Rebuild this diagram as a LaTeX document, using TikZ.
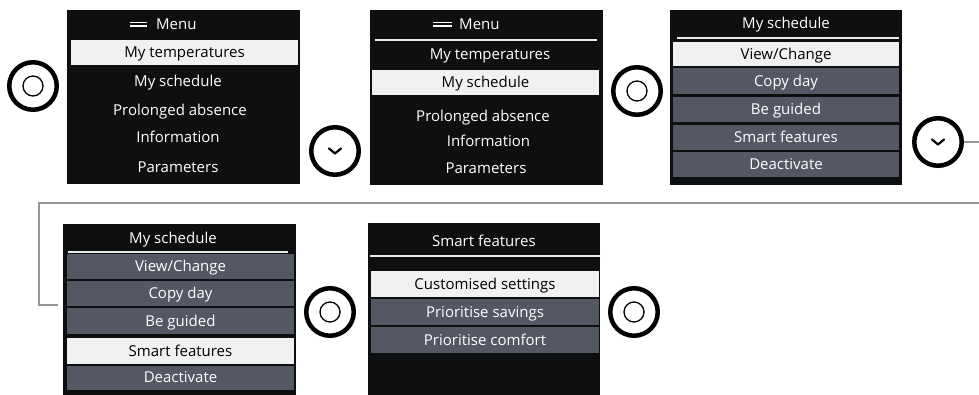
\documentclass[tikz,border=0pt]{standalone}
\usepackage{fontspec}
\setmainfont{Open Sans}
\usetikzlibrary{calc}
\definecolor{scrbg}{RGB}{14,15,17}
\definecolor{rowgray}{RGB}{84,88,101}
\definecolor{hlwhite}{RGB}{240,241,243}
\definecolor{conngray}{RGB}{150,150,150}
\tikzset{
  txtfont/.style={font=\fontsize{15}{18}\selectfont,text height=10.7pt,text depth=0pt},
  screen/.style={fill=scrbg,draw=none,inner sep=0,outer sep=0,anchor=north west},
  rowbox/.style={fill=rowgray,text=white,inner sep=0,outer sep=0,txtfont},
  hlbox/.style={fill=hlwhite,text=black,inner sep=0,outer sep=0,txtfont},
  wtext/.style={text=white,inner sep=0,txtfont},
  sepline/.style={draw=white!92!black,line width=1.5pt},
  btn/.style={circle,draw=black,line width=4.5pt,minimum size=47.5pt,inner sep=0,fill=white},
  innerring/.style={draw=black,line width=1.3pt},
  chev/.style={draw=black,line width=2.2pt,line cap=round,line join=round},
  conn/.style={draw=conngray,line width=2pt},
  menuicon/.style={draw=white,line width=1.4pt}
}
\begin{document}
\begin{tikzpicture}[x=1pt,y=-1pt]
\useasboundingbox (0,0) rectangle (979,395);
\clip (0,0) rectangle (979,395);

% ---------- Screen 1 ----------
\node[screen,minimum width=233,minimum height=174] (s1) at (67,10) {};
\draw[menuicon] (130,22.5) -- (147,22.5) (130,26) -- (147,26);
\node[wtext,anchor=west] (s1t) at (156,24) {Menu};
\node[hlbox,minimum width=227,minimum height=25] (s1r1) at (184.5,52.5) {My temperatures};
\node[wtext] (s1r2) at (178,81) {My schedule};
\node[wtext] (s1r3) at (180,110) {Prolonged absence};
\node[wtext] (s1r4) at (178,137) {Information};
\node[wtext] (s1r5) at (178,167) {Parameters};

% ---------- Screen 2 ----------
\node[screen,minimum width=233,minimum height=175] (s2) at (370,10) {};
\draw[menuicon] (433,22.5) -- (452,22.5) (433,26) -- (452,26);
\node[wtext,anchor=west] (s2t) at (459,24) {Menu};
\draw[sepline] (375,40) -- (597,40);
\node[wtext] (s2r1) at (490,54) {My temperatures};
\node[hlbox,minimum width=227,minimum height=25] (s2r2) at (485.5,82.5) {My schedule};
\node[wtext] (s2r3) at (483,116) {Prolonged absence};
\node[wtext] (s2r4) at (488.5,141) {Information};
\node[wtext] (s2r5) at (486,168) {Parameters};

% ---------- Screen 3 ----------
\node[screen,minimum width=232,minimum height=175] (s3) at (670,10) {};
\node[wtext] (s3t) at (786,23) {My schedule};
\draw[sepline] (677,38) -- (899,38);
\node[hlbox,minimum width=226,minimum height=24] (s3r1) at (786,54) {View/Change};
\node[rowbox,minimum width=226,minimum height=26] (s3r2) at (786,81) {Copy day};
\node[rowbox,minimum width=226,minimum height=25] (s3r3) at (786,109.5) {Be guided};
\node[rowbox,minimum width=226,minimum height=25] (s3r4) at (786,137.5) {Smart features};
\node[rowbox,minimum width=226,minimum height=25] (s3r5) at (786,164.5) {Deactivate};

% ---------- Screen 4 ----------
\node[screen,minimum width=233,minimum height=171] (s4) at (63,224) {};
\node[wtext] (s4t) at (173,238) {My schedule};
\draw[sepline] (68,252) -- (288,252);
\node[rowbox,minimum width=227,minimum height=25] (s4r1) at (180.5,266.5) {View/Change};
\node[rowbox,minimum width=227,minimum height=25] (s4r2) at (180.5,293.5) {Copy day};
\node[rowbox,minimum width=227,minimum height=26] (s4r3) at (180.5,321) {Be guided};
\node[hlbox,minimum width=227,minimum height=26] (s4r4) at (180.5,351) {Smart features};
\node[rowbox,minimum width=227,minimum height=24] (s4r5) at (180.5,377.5) {Deactivate};

% ---------- Screen 5 ----------
\node[screen,minimum width=232,minimum height=172] (s5) at (368,223) {};
\node[wtext] (s5t) at (484,241) {Smart features};
\draw[sepline] (370,256) -- (601,256);
\node[hlbox,minimum width=228,minimum height=26] (s5r1) at (485,284) {Customised settings};
\node[rowbox,minimum width=228,minimum height=26] (s5r2) at (485,312) {Prioritise savings};
\node[rowbox,minimum width=228,minimum height=26] (s5r3) at (485,340) {Prioritise comfort};

% ---------- Buttons ----------
\node[btn] (b1) at (33,86) {};
\draw[innerring] (b1) circle (10);
\node[btn] (b2) at (335,151) {};
\draw[chev] ($(b2)+(-6,-2.5)$) -- ($(b2)+(0,2.5)$) -- ($(b2)+(6,-2.5)$);
\node[btn] (b3) at (637,91) {};
\draw[innerring] (b3) circle (10);
\node[btn] (b4) at (938,142) {};
\draw[chev] ($(b4)+(-6,-2.5)$) -- ($(b4)+(0,2.5)$) -- ($(b4)+(6,-2.5)$);
\node[btn] (b5) at (330,312) {};
\draw[innerring] (b5) circle (10);
\node[btn] (b6) at (634,312) {};
\draw[innerring] (b6) circle (10);

% ---------- Connector ----------
\coordinate (cr) at (995,142);
\coordinate (cend) at (58,305);
\draw[conn] (b4.east) -- (cr) -- (995,203) -- (39,203) -- (39,305) -- (cend);
\end{tikzpicture}
\end{document}
